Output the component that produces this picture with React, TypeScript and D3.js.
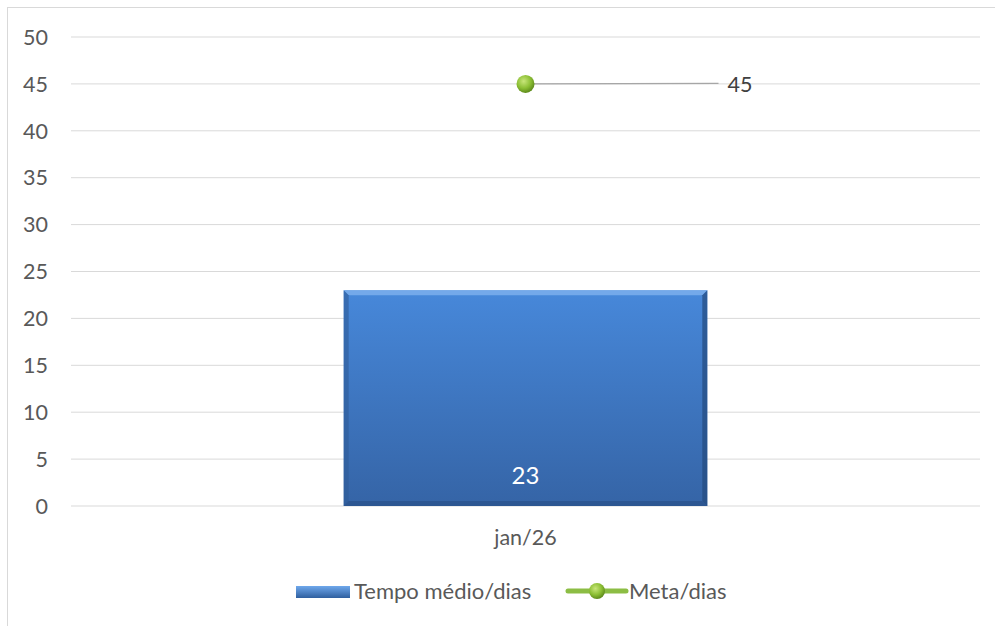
import React from "react";
import * as d3 from "d3";

const categories = ["jan/26"];
const tempoMedio = [23];
const meta = [45];
const yTicks = [0, 5, 10, 15, 20, 25, 30, 35, 40, 45, 50];
const seriesNames = ["Tempo médio/dias", "Meta/dias"];

const W = 995, H = 626;
const FONT = "Lato, 'Open Sans', sans-serif";
const FS = 21.5;

export default function App() {
  const x = d3.scaleBand().domain(categories).range([71, 980]).paddingInner(0.6).paddingOuter(0.3);
  const y = d3.scaleLinear().domain([0, 50]).range([506, 37]);
  const bw = x.bandwidth();
  return (
    <svg width={W} height={H} style={{ position: "absolute", left: 0, top: 0, background: "#fff" }} fontFamily={FONT}>
      <defs>
        <linearGradient id="barG" x1="0" y1="0" x2="0" y2="1">
          <stop offset="0" stopColor="#4788da" />
          <stop offset="1" stopColor="#3564a6" />
        </linearGradient>
        <radialGradient id="ball" cx="0.4" cy="0.35" r="0.65">
          <stop offset="0" stopColor="#c8e67a" />
          <stop offset="0.6" stopColor="#8cbf34" />
          <stop offset="1" stopColor="#5f8c1c" />
        </radialGradient>
        <linearGradient id="legBar" x1="0" y1="0" x2="0" y2="1">
          <stop offset="0" stopColor="#6fa8ec" />
          <stop offset="1" stopColor="#2f5f9f" />
        </linearGradient>
      </defs>
      <rect x={7.5} y={7.5} width={990} height={630} fill="none" stroke="#d9d9d9" />
      {yTicks.map((t) => (
        <g key={t}>
          <line x1={71} x2={980} y1={y(t)} y2={y(t)} stroke="#d9d9d9" strokeWidth={1} />
          <text x={48} y={y(t)} dy="0.36em" textAnchor="end" fontSize={FS} fill="#595959">{t}</text>
        </g>
      ))}
      {categories.map((c, i) => {
        const x0 = x(c)!;
        const yt = y(tempoMedio[i]);
        const yb = y(0);
        const b = 5;
        return (
          <g key={c}>
            <rect x={x0} y={yt} width={bw} height={yb - yt} fill="url(#barG)" />
            <polygon points={`${x0},${yt} ${x0 + bw},${yt} ${x0 + bw - b},${yt + b} ${x0 + b},${yt + b}`} fill="#7fb2ee" opacity={0.8} />
            <polygon points={`${x0},${yt} ${x0 + b},${yt + b} ${x0 + b},${yb - b} ${x0},${yb}`} fill="#2f5b98" opacity={0.6} />
            <polygon points={`${x0 + bw},${yt} ${x0 + bw - b},${yt + b} ${x0 + bw - b},${yb - b} ${x0 + bw},${yb}`} fill="#244a7e" opacity={0.7} />
            <polygon points={`${x0},${yb} ${x0 + b},${yb - b} ${x0 + bw - b},${yb - b} ${x0 + bw},${yb}`} fill="#2a5089" opacity={0.7} />
            <text x={x0 + bw / 2} y={475} dy="0.36em" textAnchor="middle" fontSize={24} fill="#ffffff">{tempoMedio[i]}</text>
            <text x={x0 + bw / 2} y={545} textAnchor="middle" fontSize={FS} fill="#595959">{c}</text>
          </g>
        );
      })}
      {categories.map((c, i) => {
        const cx = x(c)! + bw / 2;
        const cy = y(meta[i]);
        return (
          <g key={"m" + c}>
            <line x1={cx} x2={cx + 193} y1={cy} y2={cy - 0.5} stroke="#a6a6a6" strokeWidth={1.2} />
            <circle cx={cx} cy={cy} r={9} fill="url(#ball)" />
            <text x={cx + 202} y={cy} dy="0.36em" fontSize={FS} fill="#404040">{meta[i]}</text>
          </g>
        );
      })}
      <g>
        <rect x={296} y={586} width={54} height={12} fill="url(#legBar)" />
        <text x={354} y={591} dy="0.36em" fontSize={22} fill="#595959">{seriesNames[0]}</text>
        <line x1={568} x2={626} y1={591} y2={591} stroke="#8cbd44" strokeWidth={5} strokeLinecap="round" />
        <circle cx={597} cy={591} r={8} fill="url(#ball)" />
        <text x={629} y={591} dy="0.36em" fontSize={22} fill="#595959">{seriesNames[1]}</text>
      </g>
    </svg>
  );
}
